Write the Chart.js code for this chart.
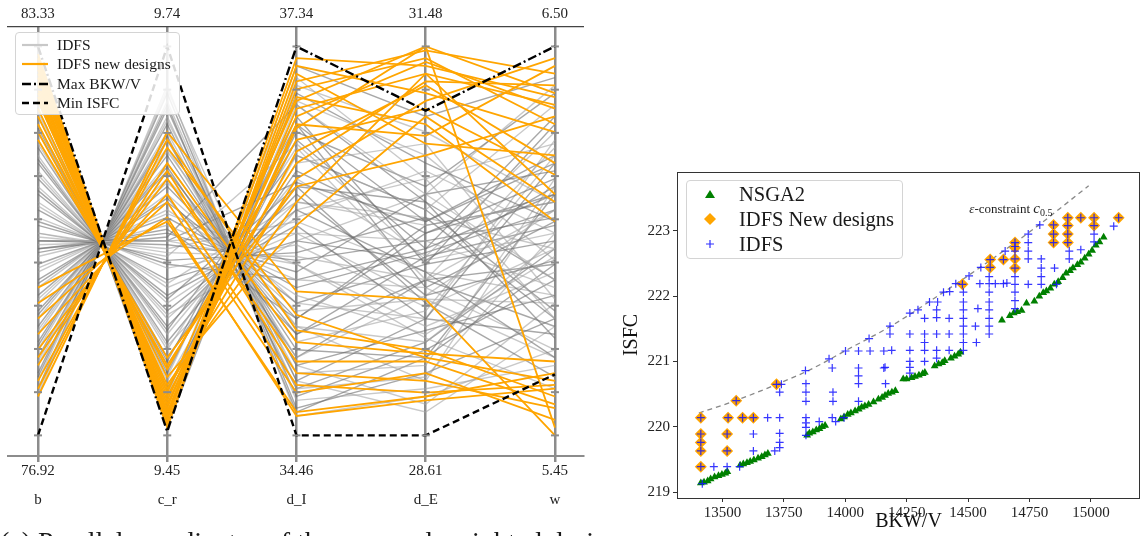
<!DOCTYPE html>
<html>
<head>
<meta charset="utf-8">
<script src="https://cdn.jsdelivr.net/npm/chart.js@4.4.0/dist/chart.umd.min.js"></script>
<style>
  body { margin: 0; width: 1146px; height: 536px; overflow: hidden; background: #fff; position: relative; font-family: "Liberation Serif", serif; color: #1a1a1a; }
  #left { position: absolute; left: 0; top: 0; }
  #right { position: absolute; left: 600px; top: 150px; }
  .legend { position: absolute; background: rgba(255,255,255,0.85); border: 1px solid #d4d4d4; border-radius: 4px; box-sizing: border-box; }
  .legend .row { position: absolute; left: 0; display: flex; align-items: center; white-space: nowrap; }
  .legend svg { display: block; }
  #caption { position: absolute; left: 0; top: 528px; font-size: 28px; line-height: 28px; white-space: nowrap; font-family: "Liberation Serif", serif; }
</style>
</head>
<body>
<canvas id="left" width="600" height="520"></canvas>
<canvas id="right" width="546" height="386"></canvas>

<div class="legend" style="left:15px;top:32px;width:165px;height:83px;font-size:15.5px">
  <div class="row" style="top:2px;height:20px"><svg width="46" height="10" style="margin-left:4px"><line x1="2" y1="5" x2="28" y2="5" stroke="#c8c8c8" stroke-width="2.2"/></svg><span style="margin-left:-9px">IDFS</span></div>
  <div class="row" style="top:21px;height:20px"><svg width="46" height="10" style="margin-left:4px"><line x1="2" y1="5" x2="28" y2="5" stroke="#ffa500" stroke-width="2.2"/></svg><span style="margin-left:-9px">IDFS new designs</span></div>
  <div class="row" style="top:41px;height:20px"><svg width="46" height="10" style="margin-left:4px"><line x1="2" y1="5" x2="28" y2="5" stroke="#000" stroke-width="2.4" stroke-dasharray="9,3,2,3"/></svg><span style="margin-left:-9px">Max BKW/V</span></div>
  <div class="row" style="top:60px;height:20px"><svg width="46" height="10" style="margin-left:4px"><line x1="2" y1="5" x2="28" y2="5" stroke="#000" stroke-width="2.4" stroke-dasharray="7,4"/></svg><span style="margin-left:-9px">Min ISFC</span></div>
</div>

<div class="legend" style="left:686px;top:180px;width:217px;height:79px;font-size:20.5px">
  <div class="row" style="top:1px;height:24px"><svg width="52" height="14"><polygon points="23,3 28,11 18,11" fill="#008000"/></svg><span>NSGA2</span></div>
  <div class="row" style="top:26px;height:24px"><svg width="52" height="14"><polygon points="23,1 29,7 23,13 17,7" fill="#ffa500"/></svg><span>IDFS New designs</span></div>
  <div class="row" style="top:51px;height:24px"><svg width="52" height="14"><path d="M19,7 H27 M23,3 V11" stroke="#3030ff" stroke-width="1.2"/></svg><span>IDFS</span></div>
</div>

<div id="caption">(a) Parallel coordinates of the new and weighted designs</div>

<script>
// ---------- left: parallel coordinates (positions between bottom label = 0 and top label = 1) ----------
const AXES = ["b", "c_r", "d_I", "d_E", "w"];
const TOP_LABELS = ["83.33", "9.74", "37.34", "31.48", "6.50"];
const BOTTOM_LABELS = ["76.92", "9.45", "34.46", "28.61", "5.45"];

const IDFS_LINES = [
  [0.95, 0.02, 0.88, 0.70, 0.55], [0.92, 0.06, 0.85, 0.62, 0.40], [0.90, 0.08, 0.80, 0.55, 0.72],
  [0.88, 0.10, 0.92, 0.66, 0.30], [0.86, 0.12, 0.76, 0.48, 0.62], [0.84, 0.14, 0.72, 0.58, 0.85],
  [0.82, 0.16, 0.82, 0.44, 0.50], [0.80, 0.18, 0.70, 0.75, 0.35], [0.78, 0.20, 0.68, 0.52, 0.66],
  [0.76, 0.22, 0.74, 0.40, 0.58], [0.74, 0.24, 0.64, 0.60, 0.25], [0.72, 0.26, 0.66, 0.46, 0.78],
  [0.70, 0.28, 0.62, 0.36, 0.45], [0.68, 0.30, 0.60, 0.54, 0.60], [0.66, 0.32, 0.58, 0.42, 0.20],
  [0.64, 0.34, 0.56, 0.68, 0.52], [0.62, 0.36, 0.54, 0.30, 0.70], [0.60, 0.38, 0.52, 0.50, 0.38],
  [0.58, 0.40, 0.50, 0.45, 0.64], [0.56, 0.43, 0.49, 0.33, 0.48], [0.54, 0.45, 0.47, 0.56, 0.30],
  [0.52, 0.47, 0.46, 0.40, 0.74], [0.50, 0.49, 0.45, 0.50, 0.56], [0.49, 0.50, 0.44, 0.28, 0.42],
  [0.48, 0.52, 0.42, 0.62, 0.68], [0.46, 0.54, 0.40, 0.38, 0.22], [0.44, 0.56, 0.38, 0.47, 0.58],
  [0.42, 0.58, 0.36, 0.26, 0.46], [0.40, 0.60, 0.34, 0.44, 0.80], [0.38, 0.62, 0.32, 0.35, 0.34],
  [0.36, 0.64, 0.30, 0.52, 0.62], [0.34, 0.66, 0.28, 0.24, 0.50], [0.32, 0.68, 0.26, 0.40, 0.28],
  [0.30, 0.70, 0.24, 0.32, 0.72], [0.28, 0.72, 0.22, 0.20, 0.44], [0.26, 0.74, 0.20, 0.36, 0.58],
  [0.24, 0.76, 0.18, 0.27, 0.36], [0.22, 0.78, 0.16, 0.18, 0.66], [0.20, 0.80, 0.14, 0.30, 0.26],
  [0.18, 0.82, 0.12, 0.15, 0.52], [0.16, 0.84, 0.10, 0.22, 0.40], [0.14, 0.86, 0.09, 0.12, 0.18],
  [0.12, 0.88, 0.07, 0.16, 0.30], [0.10, 0.90, 0.05, 0.10, 0.22], [0.93, 0.04, 0.95, 0.82, 0.92],
  [0.91, 0.05, 0.90, 0.78, 0.60], [0.87, 0.11, 0.78, 0.64, 0.88], [0.83, 0.15, 0.86, 0.72, 0.45],
  [0.79, 0.19, 0.80, 0.38, 0.55], [0.75, 0.23, 0.58, 0.66, 0.75], [0.71, 0.27, 0.72, 0.58, 0.32],
  [0.67, 0.31, 0.50, 0.62, 0.90], [0.63, 0.35, 0.64, 0.34, 0.15], [0.59, 0.39, 0.60, 0.56, 0.48],
  [0.55, 0.44, 0.40, 0.48, 0.82], [0.51, 0.48, 0.55, 0.42, 0.36], [0.47, 0.53, 0.30, 0.54, 0.60],
  [0.43, 0.57, 0.44, 0.25, 0.12], [0.39, 0.61, 0.26, 0.46, 0.54], [0.35, 0.65, 0.34, 0.30, 0.76],
  [0.31, 0.69, 0.20, 0.40, 0.44], [0.27, 0.73, 0.28, 0.14, 0.64], [0.23, 0.77, 0.12, 0.24, 0.48],
  [0.19, 0.81, 0.18, 0.08, 0.34], [0.15, 0.85, 0.06, 0.20, 0.62], [0.11, 0.89, 0.14, 0.06, 0.28],
  [0.50, 0.50, 0.65, 0.55, 0.70], [0.52, 0.46, 0.75, 0.45, 0.52], [0.48, 0.51, 0.85, 0.60, 0.40],
  [0.50, 0.50, 0.52, 0.35, 0.20]
];

const NEW_DESIGN_LINES = [
  [0.98, 0.03, 0.91, 0.99, 0.93], [0.95, 0.05, 0.89, 0.97, 0.80], [0.93, 0.06, 0.84, 0.93, 0.62],
  [0.90, 0.08, 0.79, 1.00, 0.88], [0.88, 0.10, 0.73, 0.90, 0.70], [0.86, 0.12, 0.66, 0.86, 0.97],
  [0.84, 0.13, 0.60, 0.93, 0.85], [0.82, 0.15, 0.54, 0.82, 0.60], [0.96, 0.04, 0.95, 0.88, 0.78],
  [0.92, 0.07, 0.87, 0.80, 0.55], [0.89, 0.09, 0.82, 0.96, 0.84], [0.80, 0.17, 0.76, 0.84, 0.67],
  [0.78, 0.18, 0.70, 0.91, 0.90], [0.97, 0.02, 0.93, 0.75, 0.72], [0.87, 0.11, 0.86, 1.00, 0.02],
  [0.91, 0.06, 0.80, 0.77, 0.95], [0.94, 0.05, 0.97, 0.95, 0.87], [0.76, 0.20, 0.64, 0.72, 0.82],
  [0.10, 0.78, 0.37, 0.35, 0.00], [0.14, 0.74, 0.31, 0.20, 0.14], [0.18, 0.70, 0.24, 0.21, 0.19],
  [0.22, 0.66, 0.19, 0.19, 0.08], [0.26, 0.62, 0.13, 0.11, 0.13], [0.30, 0.60, 0.11, 0.16, 0.04],
  [0.34, 0.56, 0.05, 0.09, 0.12], [0.12, 0.76, 0.27, 0.22, 0.10], [0.20, 0.68, 0.16, 0.14, 0.07],
  [0.38, 0.55, 0.06, 0.10, 0.16]
];

const MAX_BKWV = [1.0, 0.01, 1.0, 0.835, 1.0];
const MIN_ISFC = [0.0, 1.0, 0.0, 0.0, 0.157];

// ---------- right: ISFC vs BKW/V ----------
const NSGA2 = [
  [13412, 219.14], [13425, 219.15], [13440, 219.17], [13452, 219.20], [13468, 219.23], [13484, 219.25],
  [13498, 219.27], [13512, 219.29], [13520, 219.31],
  [13572, 219.41], [13585, 219.43], [13600, 219.45], [13613, 219.47], [13628, 219.49], [13645, 219.52],
  [13660, 219.54], [13673, 219.57], [13685, 219.59],
  [13845, 219.87], [13854, 219.90], [13868, 219.92], [13882, 219.95], [13895, 219.97], [13906, 220.00], [13918, 220.02],
  [13982, 220.12], [13995, 220.15], [14010, 220.19], [14023, 220.21], [14040, 220.24], [14055, 220.27],
  [14067, 220.30], [14080, 220.32], [14095, 220.34], [14115, 220.38], [14135, 220.42], [14150, 220.45],
  [14162, 220.48], [14175, 220.51], [14190, 220.53], [14204, 220.55],
  [14236, 220.73], [14250, 220.73], [14270, 220.75], [14284, 220.77], [14300, 220.79], [14315, 220.81], [14324, 220.83],
  [14364, 220.93], [14380, 220.96], [14395, 220.98], [14405, 221.01], [14430, 221.05], [14445, 221.08],
  [14460, 221.11], [14469, 221.14],
  [14638, 221.63], [14670, 221.70], [14686, 221.74], [14700, 221.76], [14718, 221.78], [14738, 221.89],
  [14770, 221.92], [14790, 222.00], [14806, 222.05], [14819, 222.08], [14835, 222.12],
  [14851, 222.18], [14867, 222.22], [14885, 222.28], [14899, 222.35], [14915, 222.39], [14927, 222.43],
  [14945, 222.48], [14959, 222.52], [14975, 222.58], [14991, 222.64], [15005, 222.70], [15020, 222.78],
  [15035, 222.83], [15052, 222.90]
];

const IDFS_NEW = [
  [13412, 220.14], [13412, 219.89], [13412, 219.76], [13412, 219.63], [13412, 219.39],
  [13523, 220.14], [13519, 219.89], [13519, 219.63], [13582, 220.14], [13626, 220.14],
  [13556, 220.40], [13720, 220.65], [14477, 222.18], [14590, 222.56], [14590, 222.44],
  [14644, 222.56], [14691, 222.82], [14691, 222.74], [14691, 222.57], [14691, 222.43],
  [14848, 223.09], [14848, 222.95], [14848, 222.82], [14906, 223.20], [14906, 223.08],
  [14906, 222.95], [14906, 222.82], [14959, 223.20], [15013, 223.20], [15013, 223.08], [15113, 223.20]
];

const IDFS = [
  [13412, 220.14], [13412, 219.89], [13412, 219.76], [13412, 219.63], [13412, 219.39],
  [13523, 220.14], [13519, 219.89], [13519, 219.63], [13582, 220.14], [13626, 220.14],
  [13556, 220.40], [13720, 220.65], [14477, 222.18], [14590, 222.56], [14590, 222.44],
  [14644, 222.56], [14691, 222.82], [14691, 222.76], [14691, 222.69], [14691, 222.57], [14691, 222.43],
  [14848, 223.09], [14848, 222.95], [14848, 222.82], [14906, 223.20], [14906, 223.08],
  [14906, 222.95], [14906, 222.82], [14959, 223.20], [15013, 223.20], [15013, 223.08], [15113, 223.20],
  [13465, 219.39], [13519, 219.39], [13570, 219.39], [13418, 219.13],
  [13684, 220.14], [13733, 220.14], [13626, 219.89], [13626, 219.63], [13733, 219.90], [13733, 219.76],
  [13713, 219.63], [13733, 219.68], [13740, 220.65], [13733, 220.53],
  [13838, 220.86], [13840, 220.66], [13840, 220.53], [13840, 220.39], [13840, 220.14], [13840, 220.06],
  [13840, 219.99], [13840, 219.87],
  [13894, 220.08], [13934, 221.04], [13947, 220.90], [13950, 220.53], [13950, 220.39], [13947, 220.14],
  [13961, 220.08], [13995, 220.14],
  [14001, 221.16], [14054, 221.16], [14101, 221.16], [14157, 221.16], [14054, 220.90], [14054, 220.78],
  [14054, 220.66], [14054, 220.39], [14097, 221.35], [14157, 220.90], [14164, 220.66],
  [14182, 221.54], [14182, 221.42], [14189, 221.17], [14162, 220.91],
  [14263, 221.74], [14296, 221.79], [14263, 221.42], [14263, 221.17], [14263, 221.00], [14263, 220.91], [14263, 220.82],
  [14323, 221.66], [14323, 221.42], [14323, 221.29], [14323, 221.17], [14323, 221.00],
  [14343, 221.91], [14376, 221.91], [14372, 221.79], [14372, 221.67], [14372, 221.42], [14372, 221.17], [14372, 221.05],
  [14400, 222.06], [14423, 221.66], [14423, 221.42], [14423, 221.17], [14450, 222.19], [14425, 222.07],
  [14481, 222.06], [14481, 221.91], [14481, 221.79], [14481, 221.66], [14481, 221.54], [14481, 221.42],
  [14481, 221.29], [14481, 221.17],
  [14504, 222.31], [14552, 222.44], [14540, 221.81], [14530, 221.54], [14534, 221.29],
  [14548, 222.19], [14611, 222.19], [14644, 222.19], [14658, 222.20],
  [14586, 222.30], [14586, 222.19], [14586, 222.06], [14586, 221.91], [14586, 221.79], [14586, 221.66],
  [14586, 221.54], [14586, 221.42],
  [14651, 222.69],
  [14691, 222.30], [14691, 222.18], [14691, 222.06], [14691, 221.93], [14691, 221.81],
  [14745, 222.95], [14745, 222.82], [14745, 222.69], [14745, 222.57], [14745, 222.18],
  [14792, 223.09], [14798, 222.57], [14798, 222.43], [14798, 222.30], [14798, 222.18],
  [14852, 222.43], [14912, 222.69], [14912, 222.57], [14959, 222.71], [15013, 222.95], [15013, 222.83],
  [15093, 223.07], [14860, 222.18]
];

const EPS_CURVE = [
  [13404, 220.21], [13560, 220.41], [13721, 220.65], [13860, 220.88], [14003, 221.17],
  [14190, 221.55], [14376, 222.00], [14580, 222.52], [14778, 223.06], [14991, 223.69]
];
const EPS_LABEL_AT = [14505, 223.33];

const SERIF = "'Liberation Serif', serif";

// vertical parallel axes get short tick marks on top of the lines
const parallelTicks = {
  id: "parallelTicks",
  afterDraw(chart) {
    const { ctx, scales: { x, y } } = chart;
    ctx.save();
    ctx.strokeStyle = "#8c8c8c";
    ctx.lineWidth = 2;
    AXES.forEach((_, i) => {
      const px = x.getPixelForValue(i);
      for (let k = 0; k <= 9; k++) {
        const py = y.getPixelForValue(k / 9);
        ctx.beginPath();
        ctx.moveTo(px - 4, py);
        ctx.lineTo(px + 4, py);
        ctx.stroke();
      }
    });
    ctx.restore();
  }
};

function toPoints(row) {
  return row.map((v, i) => ({ x: i, y: v }));
}

const leftSets = [];
leftSets.push({ data: toPoints(MAX_BKWV), borderColor: "#000", borderWidth: 2.4, borderDash: [9, 3, 2, 3], order: 0 });
leftSets.push({ data: toPoints(MIN_ISFC), borderColor: "#000", borderWidth: 2.4, borderDash: [7, 4], order: 0 });
NEW_DESIGN_LINES.forEach(r => leftSets.push({ data: toPoints(r), borderColor: "#ffa500", borderWidth: 1.8, order: 1 }));
IDFS_LINES.forEach((r, i) => leftSets.push({
  data: toPoints(r),
  borderColor: i % 2 === 0 ? "rgba(110,110,110,0.6)" : "rgba(165,165,165,0.6)",
  borderWidth: 1.4, order: 2
}));

const fixTicks = s => { s.ticks = AXES.map((_, i) => ({ value: i })); };
const XMIN = -0.232, XMAX = 4.217;

new Chart(document.getElementById("left"), {
  type: "line",
  data: { datasets: leftSets },
  options: {
    responsive: false,
    animation: false,
    events: [],
    elements: { point: { radius: 0 }, line: { tension: 0 } },
    layout: { padding: { left: 8, right: 17, top: 0, bottom: 0 } },
    plugins: { legend: { display: false }, tooltip: { enabled: false } },
    scales: {
      x: {
        type: "linear", position: "bottom", min: XMIN, max: XMAX, z: 1,
        afterBuildTicks: fixTicks,
        afterFit: s => { s.height = 28; },
        grid: { color: "#8c8c8c", lineWidth: 2.5, tickLength: 6 },
        border: { color: "#8c8c8c", width: 2 },
        ticks: { autoSkip: false, maxRotation: 0, padding: 0, color: "#222", font: { family: SERIF, size: 15 },
                 callback: v => BOTTOM_LABELS[v] }
      },
      names: {
        type: "linear", position: "bottom", min: XMIN, max: XMAX,
        afterBuildTicks: fixTicks,
        afterFit: s => { s.height = 36; },
        grid: { display: false },
        border: { display: false },
        ticks: { autoSkip: false, maxRotation: 0, padding: -1, color: "#222", font: { family: SERIF, size: 15 },
                 callback: v => AXES[v] }
      },
      top: {
        type: "linear", position: "top", min: XMIN, max: XMAX,
        afterBuildTicks: fixTicks,
        afterFit: s => { s.height = 27; },
        grid: { display: false },
        border: { color: "#444", width: 1.3 },
        ticks: { autoSkip: false, maxRotation: 0, padding: -4, color: "#222", font: { family: SERIF, size: 15 },
                 callback: v => TOP_LABELS[v] }
      },
      y: { display: false, min: -0.053, max: 1.05 }
    }
  },
  plugins: [parallelTicks]
});

// ---------- right chart ----------
const frame = {
  id: "frame",
  afterDraw(chart) {
    const { ctx, chartArea: a } = chart;
    ctx.save();
    ctx.strokeStyle = "#333";
    ctx.lineWidth = 1;
    ctx.strokeRect(a.left + 0.5, a.top + 0.5, a.right - a.left - 1, a.bottom - a.top);
    ctx.restore();
  }
};

const epsLabel = {
  id: "epsLabel",
  afterDatasetsDraw(chart) {
    const { ctx, scales: { x, y } } = chart;
    let px = x.getPixelForValue(EPS_LABEL_AT[0]);
    const py = y.getPixelForValue(EPS_LABEL_AT[1]);
    ctx.save();
    ctx.fillStyle = "#222";
    ctx.textBaseline = "middle";
    const parts = [
      ["italic 13px " + SERIF, "\u03b5", 0],
      ["13px " + SERIF, "-constraint ", 0],
      ["italic 15px " + SERIF, "c", 0],
      ["10px " + SERIF, "0.5", 4]
    ];
    parts.forEach(([font, txt, dy]) => {
      ctx.font = font;
      ctx.fillText(txt, px, py + dy);
      px += ctx.measureText(txt).width;
    });
    ctx.restore();
  }
};

const pts = arr => arr.map(([x, y]) => ({ x, y }));

new Chart(document.getElementById("right"), {
  type: "scatter",
  data: {
    datasets: [
      { label: "IDFS", data: pts(IDFS), pointStyle: "cross", pointRadius: 4, borderColor: "rgba(20,20,255,0.85)",
        backgroundColor: "rgba(20,20,255,0.85)", pointBorderWidth: 1.2, order: 0 },
      { label: "NSGA2", data: pts(NSGA2), pointStyle: "triangle", pointRadius: 4.5, borderColor: "#008000",
        backgroundColor: "#008000", pointBorderWidth: 0, order: 1 },
      { label: "IDFS New designs", data: pts(IDFS_NEW), pointStyle: "rectRot", pointRadius: 6, borderColor: "#ffa500",
        backgroundColor: "#ffa500", pointBorderWidth: 0, order: 2 },
      { type: "line", data: pts(EPS_CURVE), borderColor: "#888", borderWidth: 1.3, borderDash: [5, 4],
        pointRadius: 0, tension: 0.4, cubicInterpolationMode: "monotone", order: 3 }
    ]
  },
  options: {
    responsive: false,
    animation: false,
    events: [],
    layout: { padding: { left: 20, top: 22, right: 2, bottom: 0 } },
    plugins: { legend: { display: false }, tooltip: { enabled: false } },
    scales: {
      x: {
        type: "linear", min: 13315, max: 15200,
        afterFit: s => { s.height = 38; },
        grid: { drawOnChartArea: false, tickLength: 4, color: "#333" },
        border: { display: false },
        ticks: { stepSize: 250, includeBounds: false, autoSkip: false, maxRotation: 0, padding: 2, color: "#222",
                 font: { family: SERIF, size: 15 }, callback: v => String(v) },
        title: { display: true, text: "BKW/V", color: "#111", font: { family: SERIF, size: 20 }, padding: { top: 0, bottom: 2 } }
      },
      y: {
        min: 218.91, max: 223.9,
        afterFit: s => { s.width = 57; },
        grid: { drawOnChartArea: false, tickLength: 4, color: "#333" },
        border: { display: false },
        ticks: { stepSize: 1, includeBounds: false, padding: 3, color: "#222", font: { family: SERIF, size: 15 } },
        title: { display: true, text: "ISFC", color: "#111", font: { family: SERIF, size: 20 }, padding: { top: 0, bottom: 0 } }
      }
    }
  },
  plugins: [frame, epsLabel]
});
</script>
</body>
</html>
